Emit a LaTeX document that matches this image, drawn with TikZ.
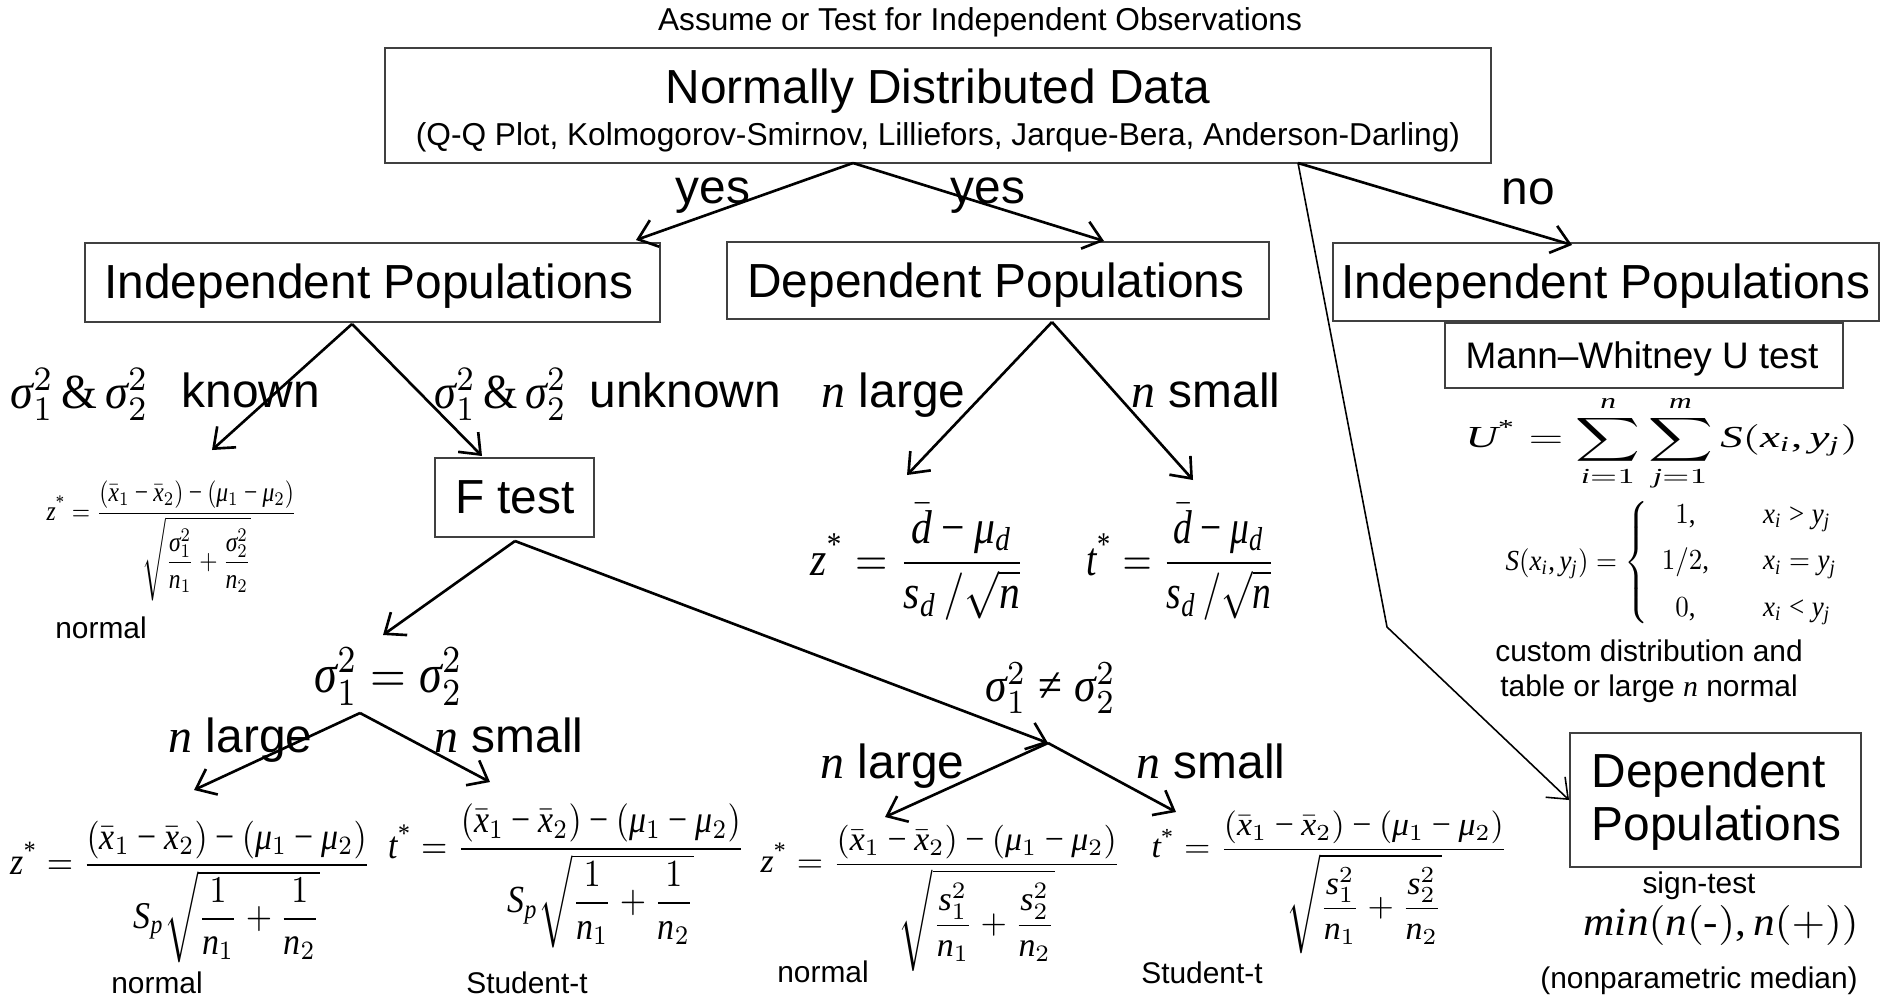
\documentclass[tikz,border=0pt]{standalone}
\usepackage{graphicx}
\usepackage{amsmath}
\usepackage{fontspec}
\setmainfont{Liberation Sans}
\newfontfamily\tnr[NFSSFamily=tnr]{Liberation Serif}
\DeclareSymbolFont{tnrit}{TU}{tnr}{m}{it}
\DeclareSymbolFont{tnrup}{TU}{tnr}{m}{n}
\def\mkit#1{\ifx#1\relax\else\Umathcode`#1="7 \symtnrit `#1\relax\expandafter\mkit\fi}
\mkit abcdefghijklmnopqrstuvwxyzABCDEFGHIJKLMNOPQRSTUVWXYZ\relax
\def\mkup#1{\ifx#1\relax\else\Umathcode`#1="0 \symtnrup `#1\relax\expandafter\mkup\fi}
\mkup 0123456789\relax
\Umathcode`+ = "2 \symtnrup `+ \relax
\Umathcode`- = "2 \symtnrup "2212 \relax
\Umathcode`= = "3 \symtnrup `= \relax
\Umathcode`< = "3 \symtnrup `< \relax
\Umathcode`> = "3 \symtnrup `> \relax
\Umathcode`( = "4 \symtnrup `( \relax
\Umathcode`) = "5 \symtnrup `) \relax
\Umathcode`, = "6 \symtnrup `, \relax
\Umathcode`/ = "0 \symtnrup `/ \relax
\Umathcode`* = "0 \symtnrup `* \relax
\Umathchardef\tsigma="0 \symtnrit "3C3 \relax
\Umathchardef\tmu="0 \symtnrit "3BC \relax
\Umathchardef\tneq="3 \symtnrup "2260 \relax
\Umathchardef\tamp="0 \symtnrup "26 \relax
\usetikzlibrary{arrows.meta}
\newcommand\fbig{\fontsize{13.6pt}{16pt}\selectfont}
\newcommand\fmid{\fontsize{9pt}{11pt}\selectfont}
\newcommand\fsml{\fontsize{8.5pt}{10pt}\selectfont}
\newcommand\fmann{\fontsize{10.5pt}{12.5pt}\selectfont}
\newcommand\nit{{\tnr\itshape n}}
\tikzset{
  box/.style={draw=black!75, line width=0.5pt, inner sep=0pt, rectangle},
  arr/.style={-{Straight Barb[length=5pt,width=8pt]}, line width=0.75pt},
  thinarr/.style={-{Straight Barb[length=5pt,width=8pt]}, line width=0.45pt},
  lbl/.style={inner sep=0pt, anchor=base west},
  ctr/.style={inner sep=0pt, anchor=base},
  fml/.style={inner sep=0pt, anchor=north west},
}
\begin{document}
\begin{tikzpicture}[x=0.01cm,y=-0.01cm]
\fill[white] (0,0) rectangle (1880,999);
\useasboundingbox (0,0) rectangle (1880,999);

% boxes
\node[box, minimum width=11.06cm, minimum height=1.15cm] (main) at (938,105.5) {};
\node[box, minimum width=5.75cm, minimum height=0.79cm] (indL) at (372.5,282.5) {};
\node[box, minimum width=5.42cm, minimum height=0.77cm] (dep) at (998,280.5) {};
\node[box, minimum width=5.46cm, minimum height=0.78cm] (indR) at (1606,282) {};
\node[box, minimum width=3.98cm, minimum height=0.65cm] (mann) at (1644,355.5) {};
\node[box, minimum width=1.59cm, minimum height=0.79cm] (ftest) at (514.5,497.5) {};
\node[box, minimum width=2.91cm, minimum height=1.34cm] (dep2) at (1715.5,800) {};

% box texts
\node[ctr, font=\fmid] (title) at (980,30) {Assume or Test for Independent Observations};
\node[ctr, font=\fbig] (mainA) at (938,103) {Normally Distributed Data};
\node[ctr, font=\fmid] (mainB) at (938,145) {(Q-Q Plot, Kolmogorov-Smirnov, Lilliefors, Jarque-Bera, Anderson-Darling)};
\node[ctr, font=\fbig] (indLt) at (369,298) {Independent Populations};
\node[ctr, font=\fbig] (dept) at (996,297) {Dependent Populations};
\node[ctr, font=\fbig] (indRt) at (1606,298) {Independent Populations};
\node[ctr, font=\fmann] (mannt) at (1642,368) {Mann–Whitney U test};
\node[ctr, font=\fbig] (ftestt) at (515,513) {F test};
\node[lbl, font=\fbig] (dep2a) at (1591,787) {Dependent};
\node[lbl, font=\fbig] (dep2b) at (1591,840) {Populations};

% connector points
\coordinate (mainY) at (853,163);
\coordinate (mainN) at (1298,163);
\coordinate (tIndL) at (636,240);
\coordinate (tDep) at (1104,241);
\coordinate (tIndR) at (1572,245);
\coordinate (kink) at (1387,627);
\coordinate (apL) at (352,324);
\coordinate (tKn) at (212,450);
\coordinate (tF) at (482,456);
\coordinate (apD) at (1052,322);
\coordinate (tZd) at (907,475);
\coordinate (tTd) at (1193,480);
\coordinate (apF) at (515,541);
\coordinate (tEq) at (383,635);
\coordinate (apNe) at (1048,743);
\coordinate (tZs) at (885,817);
\coordinate (tTs) at (1176,812);
\coordinate (apEq) at (360,713);
\coordinate (tZp) at (194,790);
\coordinate (tTp) at (490,782);

% connectors
\draw[arr] (mainY) -- (tIndL);
\draw[arr] (mainY) -- (tDep);
\draw[arr] (mainN) -- (tIndR);
\draw[thinarr] (mainN) -- (kink) -- (dep2.west);
\draw[arr] (apL) -- (tKn);
\draw[arr] (apL) -- (tF);
\draw[arr] (apD) -- (tZd);
\draw[arr] (apD) -- (tTd);
\draw[arr] (apF) -- (tEq);
\draw[arr] (apF) -- (apNe);
\draw[arr] (apNe) -- (tZs);
\draw[arr] (apNe) -- (tTs);
\draw[arr] (apEq) -- (tZp);
\draw[arr] (apEq) -- (tTp);

% branch labels
\node[ctr, font=\fbig] (yes1) at (713,203) {yes};
\node[ctr, font=\fbig] (yes2) at (988,203) {yes};
\node[ctr, font=\fbig] (no) at (1528,204) {no};
\node[fml] (sgK) at (10,368) {\resizebox*{1.38cm}{0.52cm}{$\tsigma_1^2\,\tamp\,\tsigma_2^2$}};
\node[lbl, font=\fbig] (known) at (181,407) {known};
\node[fml] (sgU) at (434,368) {\resizebox*{1.32cm}{0.52cm}{$\tsigma_1^2\,\tamp\,\tsigma_2^2$}};
\node[lbl, font=\fbig] (unknown) at (589,407) {unknown};
\node[lbl, font=\fbig] (nlD) at (821,407) {\nit{} large};
\node[lbl, font=\fbig] (nsD) at (1131,407) {\nit{} small};
\node[fml] (sgEq) at (314,647) {\resizebox*{1.48cm}{0.58cm}{$\tsigma_1^2=\tsigma_2^2$}};
\node[fml] (sgNe) at (985,662) {\resizebox*{1.30cm}{0.51cm}{$\tsigma_1^2\tneq\tsigma_2^2$}};
\node[lbl, font=\fbig] (nlE) at (168,752) {\nit{} large};
\node[lbl, font=\fbig] (nsE) at (434,752) {\nit{} small};
\node[lbl, font=\fbig] (nlN) at (820,778) {\nit{} large};
\node[lbl, font=\fbig] (nsN) at (1136,778) {\nit{} small};

% formulas
\node[fml] (smallZ) at (46,480) {\resizebox*{2.50cm}{1.20cm}{$\displaystyle z^{*}=\frac{(\bar{x}_1-\bar{x}_2)-(\tmu_1-\tmu_2)}{\sqrt{\dfrac{\tsigma_1^2}{n_1}+\dfrac{\tsigma_2^2}{n_2}}}$}};
\node[ctr, font=\fsml] (normA) at (101,638) {normal};
\node[fml] (dZ) at (810,503) {\resizebox*{2.14cm}{1.17cm}{$\displaystyle z^{*}=\frac{\bar{d}-\tmu_d}{s_d\,/\sqrt{n}}$}};
\node[fml] (dT) at (1086,503) {\resizebox*{1.89cm}{1.17cm}{$\displaystyle t^{*}=\frac{\bar{d}-\tmu_d}{s_d\,/\sqrt{n}}$}};
\node[fml] (zP) at (10,820) {\resizebox*{3.60cm}{1.42cm}{$\displaystyle z^{*}=\frac{(\bar{x}_1-\bar{x}_2)-(\tmu_1-\tmu_2)}{S_p\sqrt{\dfrac{1}{n_1}+\dfrac{1}{n_2}}}$}};
\node[ctr, font=\fsml] (normB) at (157,993) {normal};
\node[fml] (tP) at (388,803) {\resizebox*{3.56cm}{1.44cm}{$\displaystyle t^{*}=\frac{(\bar{x}_1-\bar{x}_2)-(\tmu_1-\tmu_2)}{S_p\sqrt{\dfrac{1}{n_1}+\dfrac{1}{n_2}}}$}};
\node[ctr, font=\fsml] (stuA) at (527,993) {Student-t};
\node[fml] (zS) at (760,824) {\resizebox*{3.60cm}{1.47cm}{$\displaystyle z^{*}=\frac{(\bar{x}_1-\bar{x}_2)-(\tmu_1-\tmu_2)}{\sqrt{\dfrac{s_1^2}{n_1}+\dfrac{s_2^2}{n_2}}}$}};
\node[ctr, font=\fsml] (normC) at (823,982) {normal};
\node[fml] (tS) at (1151,810) {\resizebox*{3.56cm}{1.43cm}{$\displaystyle t^{*}=\frac{(\bar{x}_1-\bar{x}_2)-(\tmu_1-\tmu_2)}{\sqrt{\dfrac{s_1^2}{n_1}+\dfrac{s_2^2}{n_2}}}$}};
\node[ctr, font=\fsml] (stuB) at (1202,983) {Student-t};
\node[fml] (uStar) at (1465,395) {\resizebox*{3.92cm}{0.95cm}{$\displaystyle U^{*}=\sum_{i=1}^{n}\sum_{j=1}^{m}S(x_i,y_j)$}};
\node[fml] (cases) at (1505,498) {\resizebox*{3.47cm}{1.28cm}{$\displaystyle S(x_i,y_j)=\left\{\begin{array}{c@{\qquad}l}1, & x_i>y_j\\[4pt] 1/2, & x_i=y_j\\[4pt] 0, & x_i<y_j\end{array}\right.$}};
\node[ctr, font=\fsml] (custA) at (1649,661) {custom distribution and};
\node[ctr, font=\fsml] (custB) at (1649,696) {table or large \nit{} normal};
\node[ctr, font=\fsml] (sign) at (1699,893) {sign-test};
\node[fml] (minf) at (1583,905) {\resizebox*{2.75cm}{0.40cm}{$min(n(\mbox{\tnr -}),n(+))$}};
\node[ctr, font=\fsml] (nonp) at (1699,988) {(nonparametric median)};
\end{tikzpicture}
\end{document}
